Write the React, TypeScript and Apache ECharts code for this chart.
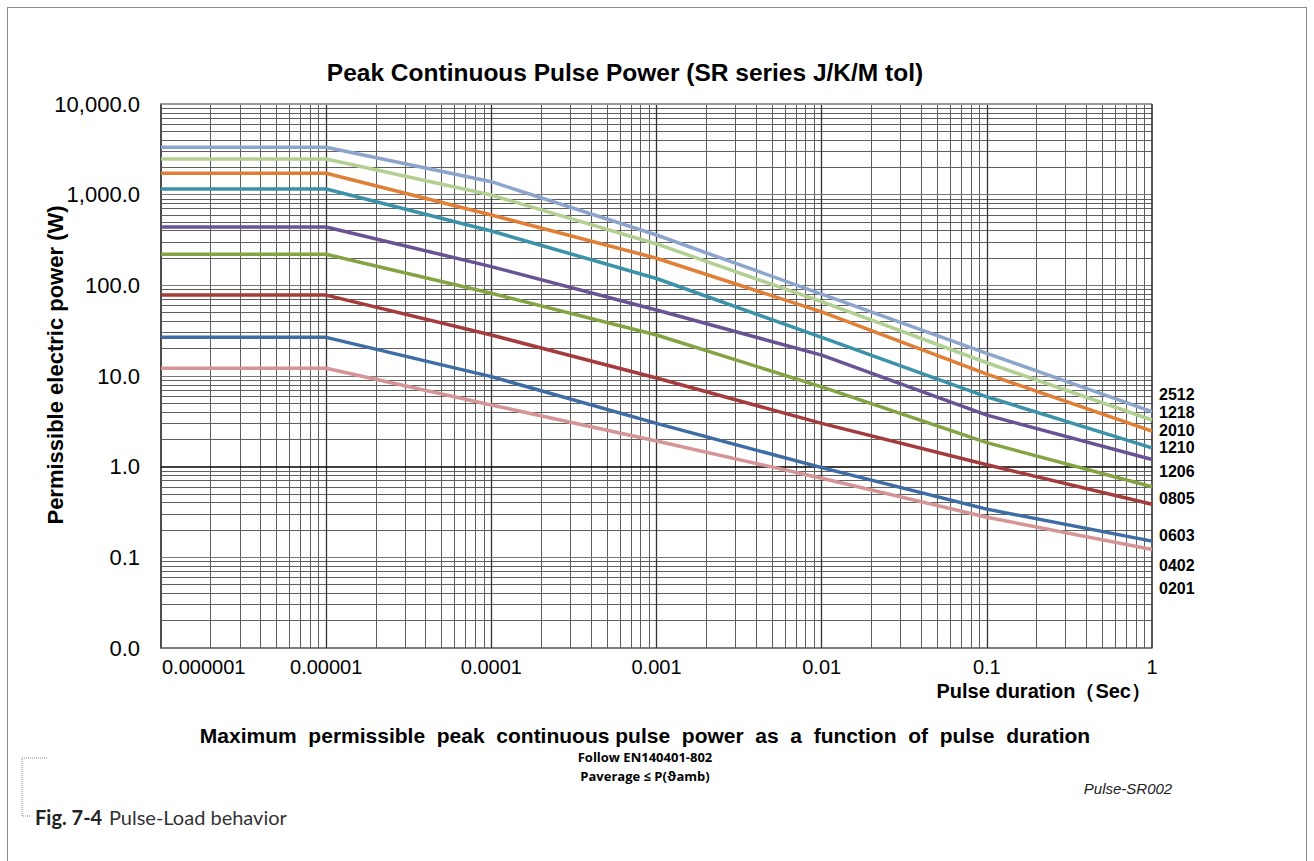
import React, { useEffect, useRef } from 'react';
import * as echarts from 'echarts';

// Pulse duration (s) at the curve break points
const durations = [0.000001, 0.00001, 0.0001, 0.001, 0.01, 0.1, 1];

// Permissible power (W) for each size
const p2512 = [3330, 3330, 1390, 359, 80, 17.8, 4.04];
const p1218 = [2470, 2470, 990, 286, 66, 14, 3.27];
const p2010 = [1720, 1720, 597, 199, 51, 10.5, 2.47];
const p1210 = [1155, 1155, 397, 119, 26.7, 5.9, 1.61];
const p1206 = [440, 440, 161, 53.4, 17, 3.7, 1.2];
const p0805 = [220, 220, 81.7, 28.3, 7.6, 1.84, 0.6];
const p0603 = [78, 78, 28.3, 9.5, 3.0, 1.05, 0.385];
const p0402 = [26.7, 26.7, 9.84, 3.0, 0.975, 0.34, 0.151];
const p0201 = [12.2, 12.2, 4.79, 1.92, 0.745, 0.277, 0.122];

const seriesNames = ['2512', '1218', '2010', '1210', '1206', '0805', '0603', '0402', '0201'];
const seriesValues = [p2512, p1218, p2010, p1210, p1206, p0805, p0603, p0402, p0201];
const seriesColors = ['#8DA5CC', '#B3CF92', '#E07F35', '#3C93A9', '#6A5394', '#84A443', '#A63B3B', '#3E6CA5', '#D59597'];

const xTickLabels = ['0.000001', '0.00001', '0.0001', '0.001', '0.01', '0.1', '1'];
const yTickLabels = ['0.0', '0.1', '1.0', '10.0', '100.0', '1,000.0', '10,000.0'];

const sizeLabels = ['2512', '1218', '2010', '1210', '1206', '0805', '0603', '0402', '0201'];
const sizeLabelY = [395, 413, 431, 448, 472, 499, 536, 566, 589];

const AX = 'Liberation Sans, Arial, sans-serif';

export default function App() {
  const ref = useRef<HTMLDivElement>(null);

  useEffect(() => {
    const chart = echarts.init(ref.current!, undefined, { renderer: 'svg' });

    const xMinor: number[] = [];
    for (let e = -6; e < 0; e++) for (let m = 2; m <= 9; m++) xMinor.push(m * Math.pow(10, e));
    const yMinor: number[] = [];
    for (let e = -2; e < 4; e++) for (let m = 2; m <= 9; m++) yMinor.push(m * Math.pow(10, e));
    const xMajor = [0.00001, 0.0001, 0.001, 0.01, 0.1];
    const yMajor = [0.1, 10, 100, 1000];

    const gridLines: any[] = [
      ...xMinor.map((v) => ({ xAxis: v, lineStyle: { color: '#5e5e5e', width: 1, type: 'solid' } })),
      ...yMinor.map((v) => ({ yAxis: v, lineStyle: { color: '#5e5e5e', width: 1, type: 'solid' } })),
      ...xMajor.map((v) => ({ xAxis: v, lineStyle: { color: '#333', width: 1.3, type: 'solid' } })),
      ...yMajor.map((v) => ({ yAxis: v, lineStyle: { color: '#777', width: 1, type: 'solid' } })),
      { yAxis: 1, lineStyle: { color: '#000', width: 1.6, type: 'solid' } },
      { yAxis: 10000, lineStyle: { color: '#999', width: 2, type: 'solid' } },
      { xAxis: 1, lineStyle: { color: '#222', width: 1.5, type: 'solid' } },
    ];

    const option: any = {
      animation: false,
      backgroundColor: 'transparent',
      title: {
        text: 'Peak Continuous Pulse Power (SR series J/K/M tol)',
        left: 620,
        top: 55,
        textAlign: 'center',
        textStyle: { fontFamily: AX, fontWeight: 'bold', fontSize: 24.5, color: '#000' },
      },
      grid: { left: 161, right: 162, top: 104, bottom: 213 },
      xAxis: {
        type: 'log',
        logBase: 10,
        min: 0.000001,
        max: 1,
        splitNumber: 6,
        axisLine: { show: true, onZero: false, lineStyle: { color: '#555', width: 1.5 } },
        axisTick: { show: false },
        splitLine: { show: false },
        axisLabel: {
          color: '#000',
          fontFamily: AX,
          fontSize: 20,
          margin: 9,
          alignMinLabel: 'left',
          formatter: (v: number) => {
            const i = Math.round(Math.log10(v)) + 6;
            return i === 0 ? '{a|' + xTickLabels[i] + '}' : xTickLabels[i];
          },
          rich: { a: { fontFamily: AX, fontSize: 20, color: '#000', padding: [0, 0, 0, 1] } },
        },
        name: 'Pulse duration（Sec）',
        nameLocation: 'end',
        nameGap: -1,
        nameMoveOverlap: false,
        nameTextStyle: {
          fontFamily: AX,
          fontWeight: 'bold',
          fontSize: 20,
          color: '#000',
          align: 'right',
          verticalAlign: 'top',
          padding: [33, 0, 0, 0],
        },
      },
      yAxis: {
        type: 'log',
        logBase: 10,
        min: 0.01,
        max: 10000,
        splitNumber: 6,
        axisLine: { show: true, lineStyle: { color: '#111', width: 1.5 } },
        axisTick: { show: false },
        splitLine: { show: false },
        axisLabel: {
          color: '#000',
          fontFamily: AX,
          fontSize: 22,
          margin: 21,
          formatter: (v: number) => yTickLabels[Math.round(Math.log10(v)) + 2],
        },
        name: 'Permissible electric power (W)',
        nameLocation: 'middle',
        nameGap: 95,
        nameMoveOverlap: false,
        nameTextStyle: { fontFamily: AX, fontWeight: 'bold', fontSize: 22, color: '#000', padding: [0, 0, 0, 22] },
      },
      series: [
        {
          type: 'line',
          name: 'grid',
          data: [],
          silent: true,
          z: 1,
          markLine: {
            silent: true,
            precision: 12,
            symbol: ['none', 'none'],
            label: { show: false },
            emphasis: { disabled: true },
            data: gridLines,
          },
        },
        ...seriesValues.map((vals, i) => ({
          type: 'line',
          name: seriesNames[i],
          data: durations.map((d, j) => [d, vals[j]]),
          symbol: 'none',
          showSymbol: false,
          z: 5,
          lineStyle: { color: seriesColors[i], width: 3.5 },
          emphasis: { disabled: true },
        })),
      ],
      graphic: [
        ...sizeLabels.map((t, i) => ({
          type: 'text',
          left: 1159,
          top: sizeLabelY[i] - 9,
          style: { text: t, fontFamily: AX, fontWeight: 'bold', fontSize: 16, fill: '#000' },
        })),
        {
          type: 'text',
          x: 645,
          y: 735,
          style: {
            text: 'Maximum  permissible  peak  continuous pulse  power  as  a  function  of  pulse  duration',
            fontFamily: AX,
            fontWeight: 'bold',
            fontSize: 21,
            fill: '#000',
            align: 'center',
            verticalAlign: 'middle',
          },
        },
        {
          type: 'text',
          x: 645,
          y: 757,
          style: {
            text: 'Follow EN140401-802',
            fontFamily: 'Open Sans, sans-serif',
            fontWeight: 'bold',
            fontSize: 13,
            fill: '#000',
            align: 'center',
            verticalAlign: 'middle',
          },
        },
        {
          type: 'text',
          x: 645,
          y: 776,
          style: {
            text: 'Paverage ≤ P(ϑamb)',
            fontFamily: 'Open Sans, sans-serif',
            fontWeight: 'bold',
            fontSize: 13,
            fill: '#000',
            align: 'center',
            verticalAlign: 'middle',
          },
        },
        {
          type: 'text',
          x: 1128,
          y: 788,
          style: {
            text: 'Pulse-SR002',
            fontFamily: AX,
            fontStyle: 'italic',
            fontSize: 15,
            fill: '#222',
            align: 'center',
            verticalAlign: 'middle',
          },
        },
        {
          type: 'polyline',
          shape: { points: [[47, 758], [22, 758], [22, 816], [31, 816]] },
          style: { stroke: '#888', lineWidth: 1, lineDash: [1, 1], fill: null },
        },
        {
          type: 'text',
          x: 35,
          y: 817,
          style: {
            text: '{b|Fig. 7-4}  {r|Pulse-Load behavior}',
            verticalAlign: 'middle',
            rich: {
              b: { fontFamily: 'Lato, sans-serif', fontWeight: 'bold', fontSize: 20, fill: '#222' },
              r: { fontFamily: 'Lato, sans-serif', fontSize: 20, fill: '#333' },
            },
          },
        },
      ],
    };

    chart.setOption(option);
    return () => chart.dispose();
  }, []);

  return (
    <div style={{ position: 'fixed', left: 0, top: 0, width: 1314, height: 861, overflow: 'hidden', background: '#fff' }}>
      <div
        style={{
          position: 'absolute',
          left: 7,
          top: 7,
          width: 1300,
          height: 900,
          border: '1.5px solid #8a8a8a',
          boxSizing: 'border-box',
        }}
      />
      <div ref={ref} style={{ position: 'absolute', left: 0, top: 0, width: 1314, height: 861 }} />
    </div>
  );
}
